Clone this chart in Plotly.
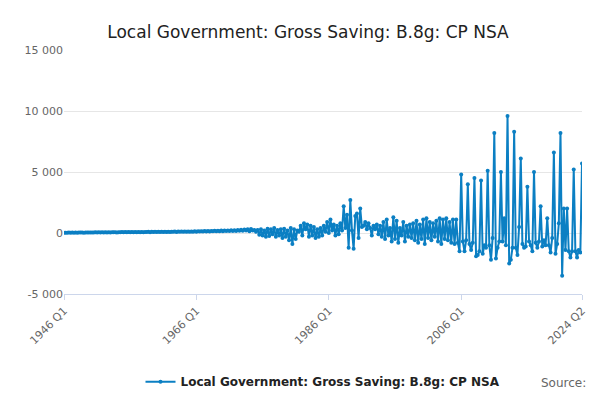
import plotly.graph_objects as go

years = list(range(1946, 2025))
quarters = [f"{y} Q{q}" for y in years for q in range(1, 5)][:-2]

v1946_1965 = [
 20,30,25,35, 25,35,30,40, 30,40,35,45, 30,45,40,50, 35,50,40,55,
 40,55,45,60, 45,60,50,65, 50,65,55,70, 50,70,60,75, 55,75,65,80,
 60,80,65,85, 60,85,70,90, 65,90,75,95, 70,95,80,100, 75,100,85,105,
 80,105,90,110, 85,110,95,115, 90,115,100,120, 95,120,105,125, 100,130,110,135,
]
v1966_1975 = [
 110,140,120,150, 120,160,130,170, 130,170,140,180, 140,190,150,200, 150,200,160,210,
 160,220,170,230, 170,250,180,260, 180,280,200,300, 150,320,200,250, 100,250,-150,300,
]
v1976_1985 = [
 -200,200,-300,350, -250,300,-100,400, -300,250,-200,300, -400,350,-300,200, -600,400,-900,300,
 -500,200,100,600, -200,800,300,700, -300,600,-200,500, -400,300,-300,400, -200,600,100,900,
]
v1986_1995 = [
 0,1100,200,700, -200,600,-100,800, 200,2200,400,1500, -1200,2700,200,-1300, 1400,1600,-400,2000,
 500,600,900,300, 800,400,-200,600, 300,700,-100,600, -300,900,-500,1100, -200,400,-700,1300,
]
v1996_2005 = [
 -500,1000,-800,400, -200,900,-700,600, -300,700,-400,800, -600,1000,-800,700, -500,1100,-900,1200,
 -400,900,-600,800, -300,1000,-700,1200, -900,1100,-500,1200, -600,900,-800,1100, -900,1100,-800,-1500,
]
v2006_2024 = [
 4800,-700,-1500,-600, 4000,-900,-1400,-800, 4500,-1900,-1800,-1500, 4300,-1700,-1000,-1200,
 5100,-1000,-2200,-400, 8200,-2100,-1200,-700, 5000,-700,1200,-1000, 9600,-2500,-2200,-1200,
 8300,-1200,-1800,500, 6100,-900,-1200,-1100, 3800,-700,-1000,-1500, 5000,-800,-1200,-700,
 2200,-1100,-600,-1000, 1200,-1000,-1600,-400, 6600,-1700,-900,800, 8200,-3500,2000,-1400,
 2000,-1500,-2000,-1500, 5200,-1500,-2000,-1400, -1600,5700,
]
values = v1946_1965 + v1966_1975 + v1976_1985 + v1986_1995 + v1996_2005 + v2006_2024
n = min(len(values), len(quarters))
quarters = quarters[:n]; values = values[:n]

tickvals = ["1946 Q1", "1966 Q1", "1986 Q1", "2006 Q1", quarters[-1]]
name = "Local Government: Gross Saving: B.8g: CP NSA"

fig = go.Figure(go.Scatter(x=quarters, y=values, mode="lines+markers", name=name,
    line=dict(color="#0b7fc3", width=2), marker=dict(size=4, color="#0b7fc3")))
fig.update_layout(
    width=600, height=400, plot_bgcolor="white", paper_bgcolor="white",
    font=dict(family="DejaVu Sans", color="#333"),
    title=dict(text=name, x=0.5, y=0.955, font=dict(size=17, color="#222")),
    margin=dict(l=56, r=26, t=42, b=104),
    showlegend=True,
    legend=dict(orientation="h", x=0.5, xanchor="center", y=-0.3, font=dict(size=12, color="#222", weight="bold")),
    xaxis=dict(type="category", tickmode="array", tickvals=tickvals, tickangle=-45, automargin=False,
               range=[0, n - 1],
               showgrid=False, showline=True, linecolor="#ccd6eb", ticks="outside",
               tickcolor="#ccd6eb", tickfont=dict(size=11, color="#666")),
    yaxis=dict(range=[-5000, 15000], tickvals=[-5000, 0, 5000, 10000, 15000], automargin=False,
               ticktext=["-5 000", "0", "5 000", "10 000", "15 000"], gridcolor="#e6e6e6",
               zeroline=False, tickfont=dict(size=11, color="#666")),
)
fig.add_annotation(text="Source:", xref="paper", yref="paper", x=1.012, y=-0.4,
                   showarrow=False, xanchor="right", font=dict(size=12, color="#666"))
fig.write_html("out.html")
